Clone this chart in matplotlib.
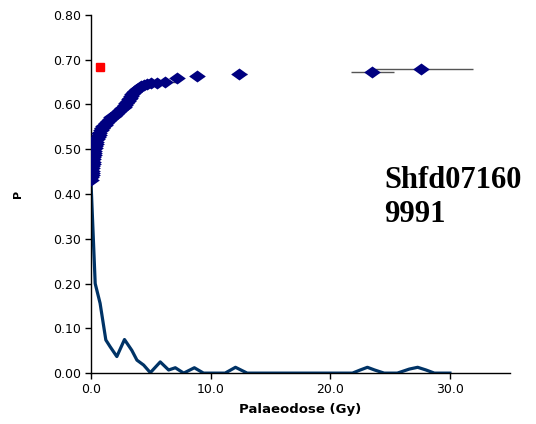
import matplotlib
matplotlib.use("Agg")
import matplotlib.pyplot as plt
from matplotlib.path import Path

# palaeodose estimates (Gy), their P value and 1-sigma error
dose = [0.00, 0.02, 0.04, 0.05, 0.07, 0.08, 0.10, 0.12, 0.14, 0.16, 0.18, 0.20,
        0.23, 0.26, 0.30, 0.34, 0.38, 0.43, 0.48, 0.55, 0.62, 0.70, 0.80, 0.90,
        1.00, 1.12, 1.25, 1.40, 1.55, 1.70, 1.88, 2.05, 2.25, 2.45, 2.60, 2.72,
        2.85, 2.95, 3.05, 3.15, 3.25, 3.35, 3.45, 3.55, 3.70, 3.85, 4.00, 4.20,
        4.45, 4.70, 5.00, 5.50, 6.15, 7.20, 8.86, 12.40, 23.50, 27.60]
p_val = [0.432, 0.437, 0.442, 0.447, 0.452, 0.457, 0.462, 0.467, 0.472, 0.477,
         0.482, 0.487, 0.492, 0.497, 0.502, 0.507, 0.512, 0.517, 0.522, 0.527,
         0.532, 0.537, 0.542, 0.547, 0.551, 0.555, 0.559, 0.563, 0.567, 0.571,
         0.575, 0.579, 0.583, 0.587, 0.591, 0.595, 0.599, 0.603, 0.607, 0.611,
         0.615, 0.619, 0.623, 0.627, 0.631, 0.634, 0.637, 0.640, 0.643, 0.645,
         0.647, 0.648, 0.651, 0.659, 0.663, 0.668, 0.673, 0.679]
dose_err = [0.02, 0.02, 0.03, 0.03, 0.03, 0.04, 0.04, 0.05, 0.05, 0.06, 0.06, 0.07,
            0.08, 0.09, 0.10, 0.12, 0.14, 0.15, 0.20, 0.25, 0.30, 0.40, 0.55, 0.70,
            0.60, 0.50, 0.45, 0.40, 0.45, 0.50, 0.40, 0.35, 0.40, 0.45, 0.50, 0.45,
            0.50, 0.60, 0.55, 0.45, 0.50, 0.40, 0.45, 0.40, 0.45, 0.40, 0.45, 0.40,
            0.45, 0.50, 0.60, 0.55, 1.00, 0.50, 0.60, 0.60, 1.80, 4.30]

# probability curve
curve_x = [0.0, 0.34, 0.75, 1.23, 1.59, 2.15, 2.79, 3.4, 3.83, 4.39, 4.95, 5.78,
           6.48, 7.04, 7.74, 8.63, 9.4, 11.2, 12.07, 13.05, 21.85, 22.5, 23.1,
           23.7, 24.5, 25.6, 26.6, 27.3, 28.0, 28.7, 30.0]
curve_y = [0.42, 0.20, 0.156, 0.074, 0.059, 0.037, 0.075, 0.051, 0.029, 0.018,
           0.001, 0.025, 0.007, 0.012, 0.0, 0.012, 0.0, 0.0, 0.013, 0.0, 0.0,
           0.007, 0.013, 0.007, 0.0, 0.0, 0.009, 0.013, 0.007, 0.0, 0.0]

# red marker
red_x = [0.75]
red_y = [0.684]

fig = plt.figure(figsize=(5.36, 4.24), dpi=100)
ax = fig.add_axes([0.170, 0.120, 0.781, 0.845])

diamond = Path([(-1, 0), (0, 0.72), (1, 0), (0, -0.72), (-1, 0)],
               [Path.MOVETO, Path.LINETO, Path.LINETO, Path.LINETO, Path.CLOSEPOLY])

ax.plot(curve_x, curve_y, color="#003366", lw=2.3, zorder=2, solid_joinstyle="round")
ax.errorbar(dose, p_val, xerr=dose_err, fmt="none", ecolor="#555555",
            elinewidth=1.0, capsize=0, zorder=3)
ax.plot(dose, p_val, linestyle="none", marker=diamond, markersize=12,
        color="#000080", markeredgewidth=0, zorder=4)
ax.plot(red_x, red_y, linestyle="none", marker="s", markersize=6,
        color="#ff0000", zorder=5)

ax.set_xlim(0, 35)
ax.set_ylim(0, 0.8)
ax.set_xticks([0, 10, 20, 30])
ax.set_xticklabels(["0.0", "10.0", "20.0", "30.0"])
ax.set_yticks([0.0, 0.1, 0.2, 0.3, 0.4, 0.5, 0.6, 0.7, 0.8])
ax.set_yticklabels(["0.00", "0.10", "0.20", "0.30", "0.40", "0.50", "0.60", "0.70", "0.80"])
ax.tick_params(direction="out", length=4, width=1, labelsize=9, pad=3)
for s in ["top", "right"]:
    ax.spines[s].set_visible(False)
ax.spines["left"].set_linewidth(1)
ax.spines["bottom"].set_linewidth(1)

ax.set_xlabel("Palaeodose (Gy)", fontsize=9.5, fontweight="bold", labelpad=5)
ax.set_ylabel("P", fontsize=8, fontweight="bold", labelpad=22)

ax.text(0.70, 0.49, "Shfd07160\n9991", transform=ax.transAxes,
        family="Liberation Serif", fontsize=22, fontweight="bold",
        ha="left", va="center", linespacing=1.2)

fig.savefig("out.png", dpi=100)
